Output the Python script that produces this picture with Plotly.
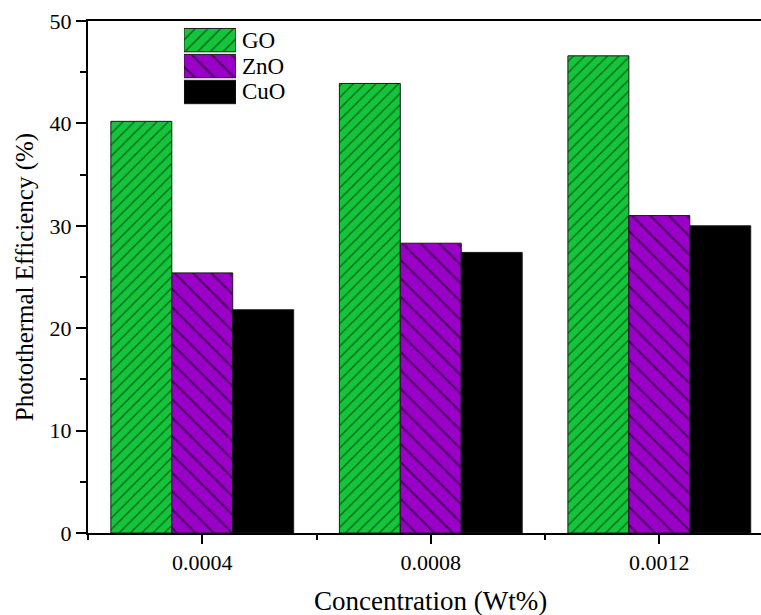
import plotly.graph_objects as go

# Photothermal efficiency (%) of three nanofluids at three concentrations
concentrations = ["0.0004", "0.0008", "0.0012"]
go_eff = [40.2, 43.9, 46.6]
zno_eff = [25.4, 28.3, 31.0]
cuo_eff = [21.8, 27.4, 30.0]

series_names = ["GO", "ZnO", "CuO"]
series_values = [go_eff, zno_eff, cuo_eff]
fill_colors = ["#14C43A", "#9B00C8", "#000000"]
hatch_shapes = ["/", "\\", ""]
hatch_sizes = [8, 13, 8]

FONT = "Liberation Serif, Times New Roman, serif"
x_pos = list(range(len(concentrations)))

fig = go.Figure()
for name, vals, col, shp, sz in zip(series_names, series_values, fill_colors,
                                    hatch_shapes, hatch_sizes):
    fig.add_trace(go.Bar(
        x=x_pos, y=vals, name=name,
        marker=dict(color=col, line=dict(color="#1a1a1a", width=1),
                    pattern=dict(shape=shp, size=sz, solidity=0.16,
                                 fgcolor="#000000", bgcolor=col)),
        showlegend=False,
    ))

# Hand-built legend: large hatched swatches on a small inset axis
swatch_len = [1] * len(series_names)
for i, (name, col, shp, sz) in enumerate(zip(series_names, fill_colors,
                                             hatch_shapes, hatch_sizes)):
    fig.add_trace(go.Bar(
        x=[swatch_len[i]], y=[i], orientation="h", width=0.9,
        xaxis="x2", yaxis="y2", showlegend=False, hoverinfo="skip",
        marker=dict(color=col, line=dict(color="#1a1a1a", width=1),
                    pattern=dict(shape=shp, size=sz + 1, solidity=0.16,
                                 fgcolor="#000000", bgcolor=col)),
    ))
    fig.add_annotation(text=name, xref="x2 domain", yref="y2", x=1.08, y=i,
                       xanchor="left", yanchor="middle", showarrow=False,
                       font=dict(family=FONT, size=23, color="black"))

fig.update_layout(
    width=761, height=615,
    margin=dict(l=88, r=0, t=21, b=82),
    paper_bgcolor="white", plot_bgcolor="white",
    barmode="group", bargap=0.2, bargroupgap=0,
    font=dict(family=FONT, color="black"),
    xaxis=dict(
        range=[-0.5, 2.445], tickmode="array", tickvals=x_pos,
        ticktext=concentrations, showgrid=False, zeroline=False,
        showline=True, linecolor="black", linewidth=2, mirror=True,
        ticks="outside", ticklen=9, tickwidth=2, tickcolor="black",
        tickfont=dict(family=FONT, size=22),
        minor=dict(tickmode="array", tickvals=[p - 0.5 for p in x_pos] + [x_pos[-1] + 0.5],
                   ticks="outside", ticklen=5, tickwidth=2, tickcolor="black"),
    ),
    yaxis=dict(
        range=[0, 50], tickvals=[0, 10, 20, 30, 40, 50], showgrid=False,
        zeroline=False, showline=True, linecolor="black", linewidth=2,
        ticks="outside", ticklen=10, tickwidth=2, tickcolor="black",
        tickfont=dict(family=FONT, size=22),
        minor=dict(dtick=5, tick0=5, ticks="outside", ticklen=6,
                   tickwidth=2, tickcolor="black"),
        title=dict(text="Photothermal Efficiency (%)",
                   font=dict(family=FONT, size=25), standoff=9),
    ),
    xaxis2=dict(domain=[0.1426, 0.2199], range=[0, 1], anchor="y2",
                visible=False, fixedrange=True),
    yaxis2=dict(domain=[0.836, 0.988], range=[2.5, -0.5], anchor="x2",
                visible=False, fixedrange=True),
)

fig.add_annotation(text="Concentration (Wt%)", xref="x", yref="paper",
                   x=1, y=-0.099, xanchor="center", yanchor="top",
                   showarrow=False, font=dict(family=FONT, size=27, color="black"))

fig.write_html("out.html")
